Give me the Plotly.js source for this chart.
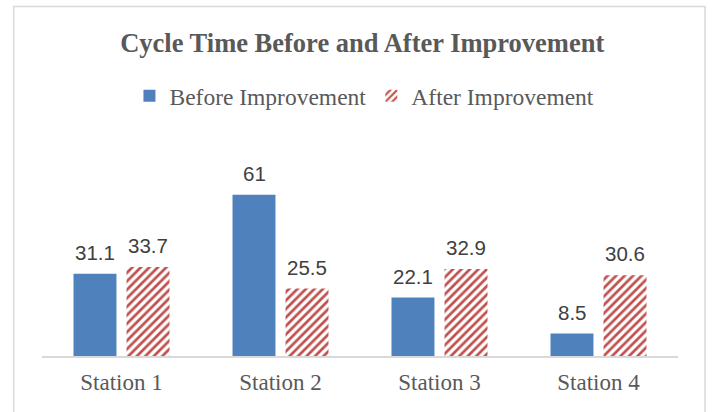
<!DOCTYPE html>
<html>
<head>
<meta charset="utf-8">
<script src="https://cdn.plot.ly/plotly-3.0.1.min.js"></script>
<style>html,body{margin:0;padding:0;background:#fff;}#chart{width:713px;height:412px;}</style>
</head>
<body>
<div id="chart"></div>
<script>
const categories = ["Station 1", "Station 2", "Station 3", "Station 4"];
const beforeValues = [31.1, 61, 22.1, 8.5];
const afterValues = [33.7, 25.5, 32.9, 30.6];
const seriesNames = ["Before Improvement", "After Improvement"];

const labelFont = {family: "Liberation Sans, Arial, sans-serif", size: 20.5, color: "#404040"};
const serif = "Liberation Serif, Times New Roman, serif";

const traces = [
  {
    type: "bar", name: seriesNames[0], x: categories, y: beforeValues,
    marker: {color: "#4f81bd"}, hoverinfo: "skip"
  },
  {
    type: "bar", name: seriesNames[1], x: categories, y: afterValues,
    marker: {color: "#ffffff", pattern: {shape: "/", fgcolor: "#c0504d", fgopacity: 1, bgcolor: "#ffffff", size: 6, solidity: 0.45, fillmode: "replace"}},
    hoverinfo: "skip"
  }
];

// data labels placed above each bar (offset left/right for the grouped bars)
const annotations = [];
[beforeValues, afterValues].forEach((vals, s) => {
  vals.forEach((v, i) => {
    annotations.push({
      x: categories[i], y: v, xref: "x", yref: "y",
      text: String(v), showarrow: false, yanchor: "bottom",
      xshift: s === 0 ? -26.5 : 26.5, yshift: 8,
      font: labelFont
    });
  });
});

const layout = {
  width: 713, height: 412,
  margin: {l: 42, r: 35, t: 171, b: 56},
  paper_bgcolor: "#ffffff", plot_bgcolor: "#ffffff",
  showlegend: true,
  title: {text: "<b>Cycle Time Before and After Improvement</b>", x: 0.508, xanchor: "center", y: 0.897, yanchor: "middle",
    font: {family: serif, size: 26.5, color: "#595959"}},
  legend: {orientation: "h", x: 0.507, xanchor: "center", y: 1.405, yanchor: "middle",
    font: {family: serif, size: 23.5, color: "#595959"},
    itemwidth: 30, traceorder: "normal"},
  barmode: "group", bargap: 0.333, bargroupgap: 0.19,
  xaxis: {showline: true, linecolor: "#d9d9d9", linewidth: 1.5, ticks: "", showgrid: false,
    tickfont: {family: serif, size: 23, color: "#595959"}, ticklabelstandoff: 5, fixedrange: true},
  yaxis: {range: [0, 70], visible: false, showgrid: false, zeroline: false, fixedrange: true},
  annotations: annotations,
  shapes: [{type: "rect", xref: "paper", yref: "paper", x0: -0.0445, x1: 1.0425, y0: -0.4, y1: 1.889,
    line: {color: "#d9d9d9", width: 1.5}, fillcolor: "rgba(0,0,0,0)", layer: "below"}]
};

Plotly.newPlot("chart", traces, layout, {displayModeBar: false, staticPlot: true});
</script>
</body>
</html>
